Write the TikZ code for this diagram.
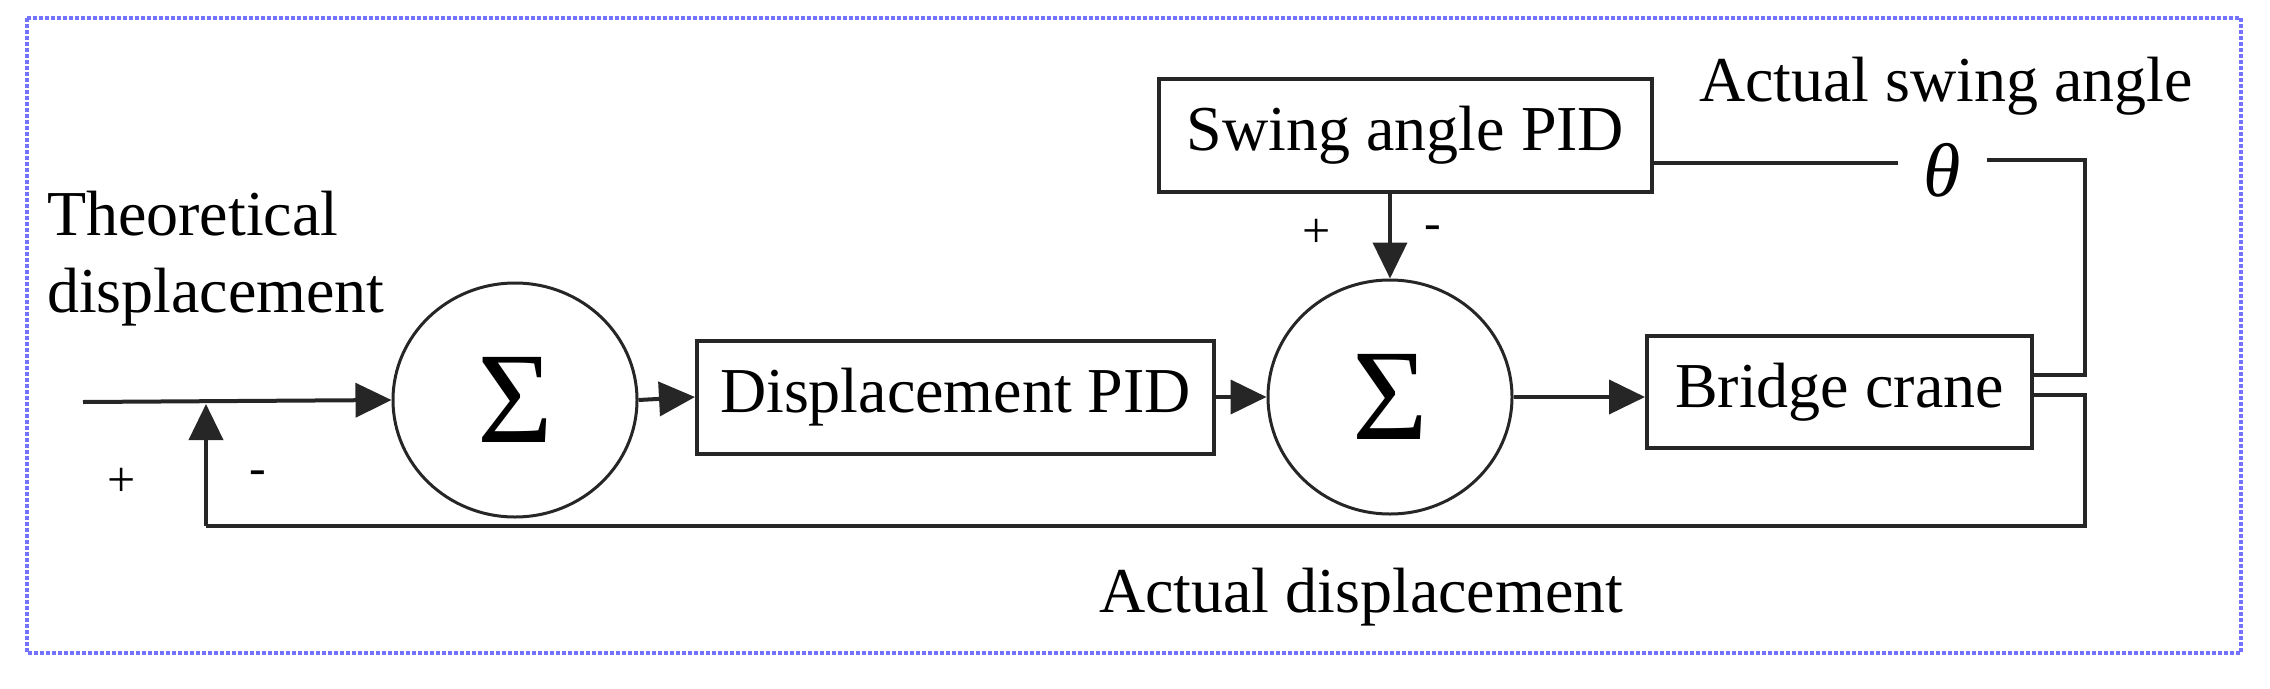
\documentclass[tikz,border=0pt]{standalone}
\usepackage{fontspec}
\setmainfont{Liberation Serif}
\usetikzlibrary{shapes.geometric,arrows.meta}
\begin{document}
\begin{tikzpicture}[x=1pt,y=-1pt,
  line width=4pt, draw=black!85,
  txt/.style={font=\fontsize{64}{72}\selectfont, inner sep=0pt},
  blk/.style={draw, rectangle, inner sep=0pt, font=\fontsize{64}{72}\selectfont},
  sum/.style={draw, ellipse, line width=3pt, minimum width=244, minimum height=234, inner sep=0pt, font=\fontsize{130}{130}\selectfont},
  arr/.style={-{Triangle[length=36pt,width=34pt]}},
  sgn/.style={font=\fontsize{50}{50}\selectfont, inner sep=0pt}]
\useasboundingbox (0,0) rectangle (2270,688);
\draw[blue!55, line width=4pt, dotted] (27,18) rectangle (2241,653);

\node[sum] (s1) at (515,400) {Σ};
\node[sum] (s2) at (1390,397) {Σ};
\node[blk, minimum width=517, minimum height=113] (dp) at (955.5,397) {Displacement PID};
\node[blk, minimum width=493, minimum height=113] (sw) at (1405.5,135.5) {Swing angle PID};
\node[blk, minimum width=385, minimum height=112] (bc) at (1839.5,392) {Bridge crane};

\node[txt, anchor=base west] (tl) at (45,235) {Theoretical};
\node[txt, anchor=base west] (tl2) at (45,312) {displacement};
\node[txt, anchor=base west] (asw) at (1697,101) {Actual swing angle};
\node[txt, anchor=base west] (adl) at (1097,612) {Actual displacement};
\node[txt, font=\fontsize{76}{80}\selectfont\itshape] (th) at (1942,170) {θ};

\node[sgn] (p1) at (122,482) {+};
\node[sgn] (m1) at (258,478) {-};
\node[sgn] (p2) at (1317,233) {+};
\node[sgn] (m2) at (1433,233) {-};

\coordinate (in) at (83,402);
\coordinate (fb) at (206,404);
\coordinate (fbb) at (206,526);
\coordinate (r1) at (2085,160);
\coordinate (r2) at (2085,375);
\coordinate (q1) at (2085,395);
\coordinate (q2) at (2085,526);
\coordinate (swb) at (sw.south -| s2.north);

\draw[arr] (in) -- (s1.west);
\draw[arr] (s1.east) -- (dp.west);
\draw[arr] (dp.east) -- (s2.west);
\draw[arr] (s2.east) -- (bc.west |- s2.east);
\draw[arr] (swb) -- (s2.north);
\draw (sw.east |- 0,163) -- (1898,163);
\draw (1987,160) -- (r1) -- (r2) -- (bc.east |- r2);
\draw (bc.east |- q1) -- (q1) -- (q2) -- (fbb);
\draw[arr] (fbb) -- (fb);
\end{tikzpicture}
\end{document}
